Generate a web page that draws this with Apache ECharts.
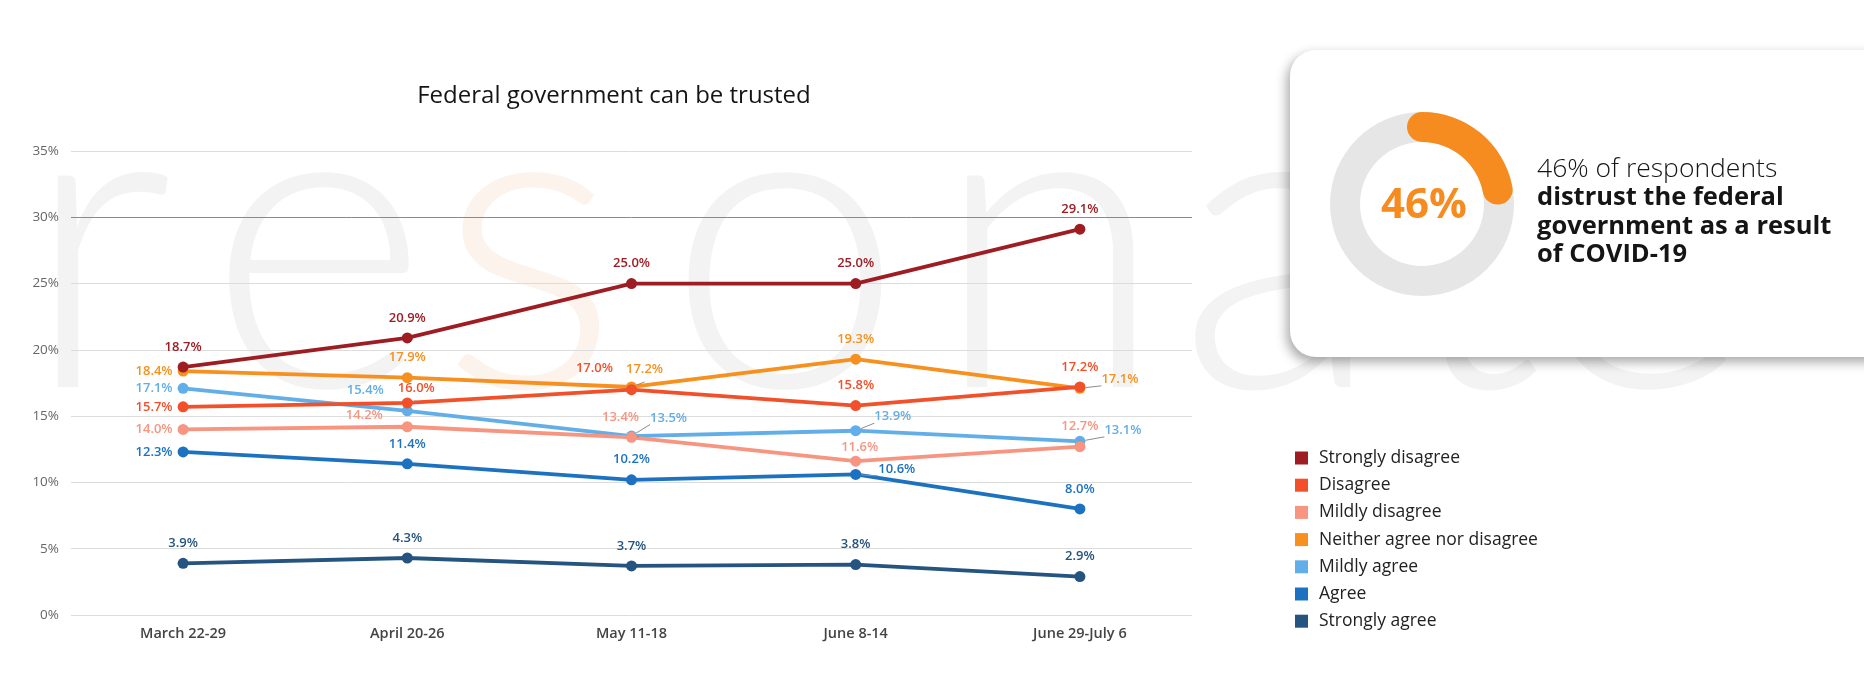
<!DOCTYPE html>
<html>
<head>
<meta charset="utf-8">
<script src="https://cdn.jsdelivr.net/npm/echarts@6/dist/echarts.min.js"></script>
<style>
html,body{margin:0;padding:0;background:#fff;}
#chart{width:1864px;height:694px;}
</style>
</head>
<body>
<div id="chart"></div>
<script>
// ---- data ----
const categories = ['March 22-29', 'April 20-26', 'May 11-18', 'June 8-14', 'June 29-July 6'];
const seriesNames = ['Strongly disagree', 'Disagree', 'Mildly disagree', 'Neither agree nor disagree', 'Mildly agree', 'Agree', 'Strongly agree'];
const stronglyDisagree = [18.7, 20.9, 25.0, 25.0, 29.1];
const disagree = [15.7, 16.0, 17.0, 15.8, 17.2];
const mildlyDisagree = [14.0, 14.2, 13.4, 11.6, 12.7];
const neitherAgree = [18.4, 17.9, 17.2, 19.3, 17.1];
const mildlyAgree = [17.1, 15.4, 13.5, 13.9, 13.1];
const agree = [12.3, 11.4, 10.2, 10.6, 8.0];
const stronglyAgree = [3.9, 4.3, 3.7, 3.8, 2.9];
const headlinePercent = 46;
const ringArcPercent = 22;
const chartTitle = 'Federal government can be trusted';
const cardLines = ['46% of respondents', 'distrust the federal', 'government as a result', 'of COVID-19'];

// ---- styles ----
const colors = ['#9e1d22', '#f2502a', '#f79580', '#f7901e', '#62aee8', '#1c72c0', '#24547f'];
const T = ['top', 0, 0, false];
const labelPlacement = [
  [T, T, T, T, T],
  [['left', 0, 0, false], ['top', 9, 5, true], ['left', -8, -21, false], T, T],
  [['left', 0, 0, false], ['left', -14, -11, true], ['top', -11, 0, true], ['top', 4, 6, false], ['top', 0, 0, true]],
  [['left', 0, 0, false], T, ['top', 13, 2, true], T, ['right', 11, -9, true]],
  [['left', 0, 0, false], ['left', -13, -21, false], ['right', 8, -18, true], ['right', 8, -14, true], ['right', 14, -11, true]],
  [['left', 0, 0, false], T, T, ['right', 12, -5, true], T],
  [T, T, T, T, T]
];
const allValues = [stronglyDisagree, disagree, mildlyDisagree, neitherAgree, mildlyAgree, agree, stronglyAgree];

const series = allValues.map((vals, si) => ({
  name: seriesNames[si],
  type: 'line',
  symbol: 'circle',
  symbolSize: 11,
  z: 10 - si,
  lineStyle: { width: 3.8, color: colors[si] },
  itemStyle: { color: colors[si] },
  data: vals.map((v, i) => {
    const p = labelPlacement[si][i];
    return {
      value: v,
      labelLine: { show: p[3], lineStyle: { color: '#8c8c8c', width: 1 } },
      label: {
        show: true,
        position: p[0],
        distance: p[0] === 'top' ? 8 : 5,
        offset: [p[1], p[2]],
        formatter: (d) => d.value.toFixed(1) + '%',
        color: colors[si],
        fontFamily: 'Open Sans',
        fontSize: 13,
        fontWeight: 600
      }
    };
  })
}));

// gauge donut
series.push({
  type: 'gauge',
  center: [1422, 204],
  radius: 92,
  startAngle: 90,
  endAngle: -270,
  min: 0, max: 100,
  z: 20,
  pointer: { show: false },
  progress: { show: true, roundCap: true, width: 30, itemStyle: { color: '#f68b1f' } },
  axisLine: { lineStyle: { width: 30, color: [[1, '#e6e6e6']] } },
  splitLine: { show: false },
  axisTick: { show: false },
  axisLabel: { show: false },
  title: { show: false },
  detail: {
    show: true,
    offsetCenter: [2, 2],
    formatter: () => headlinePercent + '%',
    color: '#f68b1f',
    fontFamily: 'Open Sans',
    fontWeight: 700,
    fontSize: 42
  },
  data: [{ value: ringArcPercent }]
});

// watermark letters
const wmLetters = ['r', 'e', 's', 'o', 'n', 'a', 't', 'e'];
const wmX = [98, 318, 529, 785, 1049, 1280, 1470, 1640];
const wmGraphics = wmLetters.map((ch, i) => ({
  type: 'text',
  z: 0,
  silent: true,
  style: {
    text: ch,
    x: wmX[i],
    y: 250,
    textAlign: 'center',
    textVerticalAlign: 'middle',
    fontFamily: 'Lato',
    fontWeight: 300,
    fontSize: 425,
    fill: i === 2 ? '#fbf3ec' : '#f3f3f3'
  }
}));

const cardGraphics = [
  {
    type: 'rect',
    z: 1,
    shape: { x: 1290, y: 50, width: 640, height: 307, r: 26 },
    style: { fill: '#fff', shadowBlur: 12, shadowColor: 'rgba(0,0,0,0.35)', shadowOffsetX: -3, shadowOffsetY: 5 }
  }
].concat(cardLines.map((t, i) => ({
  type: 'text',
  z: 30,
  style: {
    text: t,
    x: 1537,
    y: [169, 198, 227, 255][i],
    textAlign: 'left',
    textVerticalAlign: 'middle',
    fontFamily: 'Open Sans',
    fontWeight: i === 0 ? 300 : 700,
    fontSize: i === 0 ? 26.5 : 25.5,
    fill: '#151515'
  }
})));

const chart = echarts.init(document.getElementById('chart'), null, { renderer: 'canvas' });
chart.setOption({
  animation: false,
  color: colors,
  title: {
    text: chartTitle,
    left: 609,
    top: 79,
    textAlign: 'center',
    textStyle: { fontFamily: 'Open Sans', fontWeight: 400, fontSize: 24, color: '#151515' }
  },
  legend: {
    orient: 'vertical',
    left: 1290,
    top: 444,
    itemWidth: 13,
    itemHeight: 13,
    itemGap: 9.2,
    icon: 'rect',
    data: seriesNames,
    textStyle: { fontFamily: 'Open Sans', fontSize: 17.5, color: '#222', padding: [0, 0, 0, 6] }
  },
  grid: { left: 71, right: 672, top: 151, bottom: 79 },
  xAxis: {
    type: 'category',
    data: categories,
    boundaryGap: true,
    axisLine: { show: false },
    axisTick: { show: false },
    axisLabel: { margin: 11, fontFamily: 'Open Sans', fontSize: 14.5, fontWeight: 600, color: '#444' }
  },
  yAxis: {
    type: 'value',
    min: 0, max: 35, interval: 5,
    axisLine: { show: false },
    axisTick: { show: false },
    axisLabel: { margin: 12, formatter: '{value}%', fontFamily: 'Open Sans', fontSize: 13.5, color: '#666' },
    splitLine: { lineStyle: { width: 1, color: ['#dcdcdc', '#dcdcdc', '#dcdcdc', '#dcdcdc', '#dcdcdc', '#dcdcdc', '#8a8a8a', '#dcdcdc'] } }
  },
  graphic: wmGraphics.concat(cardGraphics),
  series: series
});
</script>
</body>
</html>
